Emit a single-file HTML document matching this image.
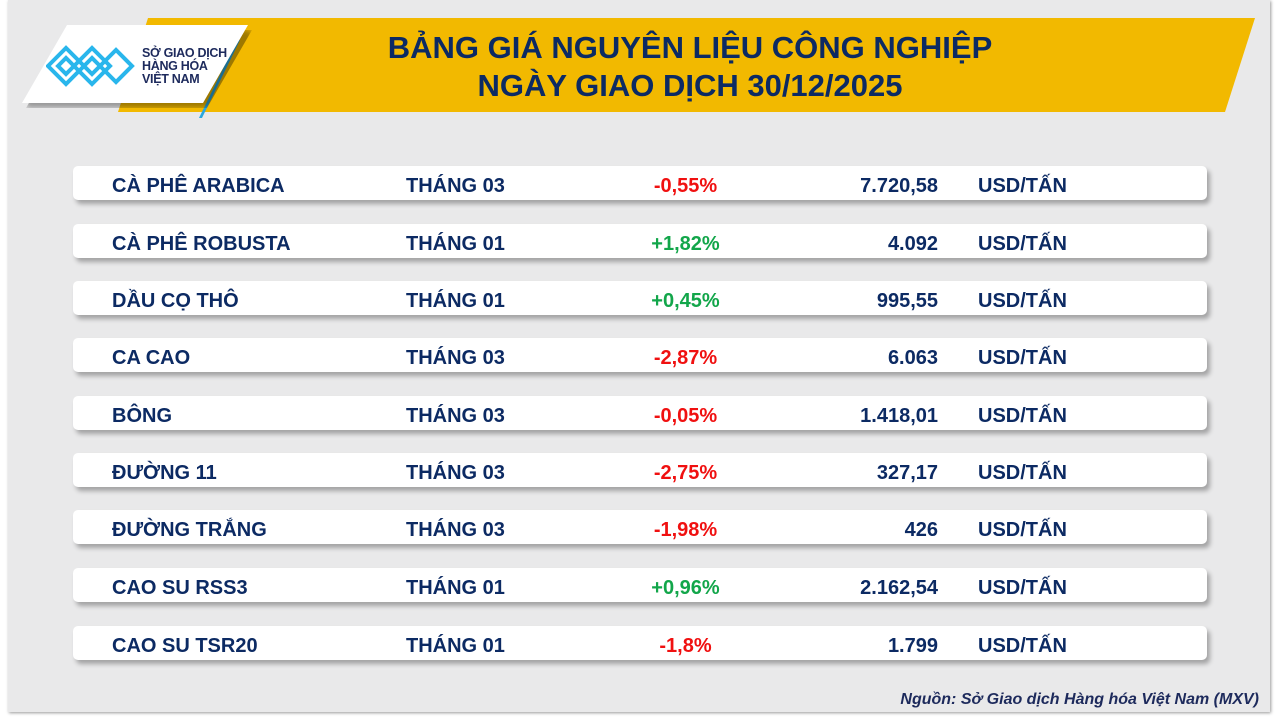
<!DOCTYPE html>
<html><head><meta charset="utf-8"><style>
*{margin:0;padding:0;box-sizing:border-box}
body{width:1280px;height:720px;background:#fff;position:relative;overflow:hidden;font-family:"Liberation Sans",sans-serif}
.panel{position:absolute;left:8px;top:0;width:1262px;height:712px;background:#e9e9ea;box-shadow:1px 1px 3px #999}
.banner{position:absolute;left:118px;top:18px;width:1137px;height:94px;background:#f2b900;clip-path:polygon(30px 0,100% 0,calc(100% - 30px) 100%,0 100%)}
.title{position:absolute;left:240px;width:900px;text-align:center;color:#0c2a63;font-weight:bold;font-size:31px;line-height:38px;top:29px}
.logo{position:absolute;left:22px;top:25px;width:226px;height:78px;background:#fff;clip-path:polygon(45px 0,100% 0,calc(100% - 45px) 100%,0 100%);}
.logoshadow{position:absolute;left:26px;top:30px;width:226px;height:78px;background:rgba(0,0,0,.35);filter:blur(3px);clip-path:polygon(45px 0,100% 0,calc(100% - 45px) 100%,0 100%)}
.ltext{position:absolute;left:142px;top:47px;font-size:12.5px;line-height:13px;color:#1d2a5c;font-weight:bold;letter-spacing:-0.3px}
.row{position:absolute;left:73px;width:1134px;height:34px;background:#fff;border-radius:5px;box-shadow:3px 4px 5px rgba(0,0,0,.3);color:#0c2a63;font-weight:bold;font-size:20px}
.row span{position:absolute;top:9px;line-height:22px}
.n{left:39px}.m{left:333px}.p{left:520px;width:185px;text-align:center}.v{right:269px;text-align:right}.u{left:905px}
.g{color:#12a64a}.r{color:#f01010}
.src{position:absolute;right:21px;top:691px;font-size:16px;font-style:italic;font-weight:bold;color:#1d2a5c}
</style></head><body>
<div class="panel"></div>
<div class="banner"></div>
<div style="position:absolute;left:218px;top:40px;width:3px;height:78px;background:#29a8e0;transform:skewX(-26deg)"></div>
<div class="logoshadow"></div>
<div class="logo"></div>
<svg style="position:absolute;left:46px;top:44px" width="90" height="44" viewBox="0 0 90 44"><g fill="none" stroke="#29b6ec" stroke-width="4">
<path d="M2 22 L20 4 L38 22 L20 40 Z"/><path d="M12 22 L20 14 L28 22 L20 30 Z"/>
<path d="M28 22 L46 4 L64 22 L46 40 Z"/><path d="M38 22 L46 14 L54 22 L46 30 Z"/>
<path d="M54 22 L70 6 L86 22 L70 38 Z"/></g></svg>
<div class="ltext">SỞ GIAO DỊCH<br>HÀNG HÓA<br>VIỆT NAM</div>
<div class="title">BẢNG GIÁ NGUYÊN LIỆU CÔNG NGHIỆP<br>NGÀY GIAO DỊCH 30/12/2025</div>

<div class="row" style="top:166px"><span class="n">CÀ PHÊ ARABICA</span><span class="m">THÁNG 03</span><span class="p r">-0,55%</span><span class="v">7.720,58</span><span class="u">USD/TẤN</span></div>
<div class="row" style="top:224px"><span class="n">CÀ PHÊ ROBUSTA</span><span class="m">THÁNG 01</span><span class="p g">+1,82%</span><span class="v">4.092</span><span class="u">USD/TẤN</span></div>
<div class="row" style="top:281px"><span class="n">DẦU CỌ THÔ</span><span class="m">THÁNG 01</span><span class="p g">+0,45%</span><span class="v">995,55</span><span class="u">USD/TẤN</span></div>
<div class="row" style="top:338px"><span class="n">CA CAO</span><span class="m">THÁNG 03</span><span class="p r">-2,87%</span><span class="v">6.063</span><span class="u">USD/TẤN</span></div>
<div class="row" style="top:396px"><span class="n">BÔNG</span><span class="m">THÁNG 03</span><span class="p r">-0,05%</span><span class="v">1.418,01</span><span class="u">USD/TẤN</span></div>
<div class="row" style="top:453px"><span class="n">ĐƯỜNG 11</span><span class="m">THÁNG 03</span><span class="p r">-2,75%</span><span class="v">327,17</span><span class="u">USD/TẤN</span></div>
<div class="row" style="top:510px"><span class="n">ĐƯỜNG TRẮNG</span><span class="m">THÁNG 03</span><span class="p r">-1,98%</span><span class="v">426</span><span class="u">USD/TẤN</span></div>
<div class="row" style="top:568px"><span class="n">CAO SU RSS3</span><span class="m">THÁNG 01</span><span class="p g">+0,96%</span><span class="v">2.162,54</span><span class="u">USD/TẤN</span></div>
<div class="row" style="top:626px"><span class="n">CAO SU TSR20</span><span class="m">THÁNG 01</span><span class="p r">-1,8%</span><span class="v">1.799</span><span class="u">USD/TẤN</span></div>
<div class="src">Nguồn: Sở Giao dịch Hàng hóa Việt Nam (MXV)</div>
</body></html>
